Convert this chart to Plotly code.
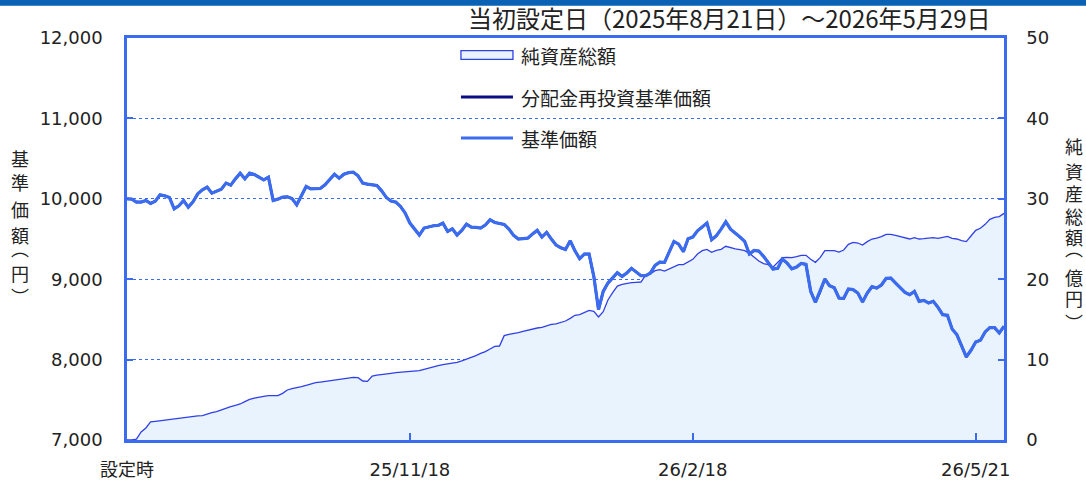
import plotly.graph_objects as go

# 基準価額 (円), business-day series from 2025/8/21 to 2026/5/29
price = [
    10000, 9996, 9959, 9959, 9979, 9942, 9971, 10050, 10037, 10017,
    9876, 9913, 9979, 9896, 9963, 10062, 10112, 10145, 10070, 10091,
    10120, 10195, 10170, 10248, 10319, 10248, 10319, 10302, 10273, 10236,
    10269, 9979, 9996, 10021, 10025, 10004, 9925, 10050, 10153, 10124,
    10124, 10128, 10174, 10236, 10306, 10257, 10306, 10325, 10331, 10286,
    10195, 10182, 10178, 10166, 10099, 10017, 9971, 9959, 9905, 9822,
    9698, 9627, 9549, 9636, 9652, 9665, 9669, 9698, 9594, 9627,
    9549, 9607, 9685, 9648, 9644, 9636, 9673, 9739, 9706, 9698,
    9681, 9623, 9545, 9499, 9507, 9511, 9561, 9607, 9524, 9582,
    9499, 9424, 9391, 9370, 9478, 9354, 9255, 9313, 9313, 9035,
    8621, 8849, 8952, 9023, 9081, 9035, 9077, 9135, 9089, 9043,
    9043, 9077, 9172, 9213, 9209, 9333, 9470, 9437, 9342, 9503,
    9524, 9602, 9648, 9698, 9491, 9540, 9623, 9714, 9623, 9578,
    9524, 9470, 9313, 9358, 9350, 9284, 9209, 9126, 9135, 9251,
    9200, 9130, 9151, 9197, 9184, 8849, 8712, 8845, 9002, 8919,
    8894, 8766, 8762, 8878, 8870, 8828, 8716, 8828, 8907, 8890,
    8928, 9010, 9014, 8952, 8894, 8836, 8807, 8849, 8725, 8737,
    8704, 8725, 8650, 8559, 8551, 8381, 8311, 8166, 8033, 8116,
    8219, 8240, 8344, 8398, 8398, 8331, 8414,
]

# 分配金再投資基準価額 (円): no distributions, so it reads identical to 基準価額
reinvest = [
    10000, 9996, 9959, 9959, 9979, 9942, 9971, 10050, 10037, 10017,
    9876, 9913, 9979, 9896, 9963, 10062, 10112, 10145, 10070, 10091,
    10120, 10195, 10170, 10248, 10319, 10248, 10319, 10302, 10273, 10236,
    10269, 9979, 9996, 10021, 10025, 10004, 9925, 10050, 10153, 10124,
    10124, 10128, 10174, 10236, 10306, 10257, 10306, 10325, 10331, 10286,
    10195, 10182, 10178, 10166, 10099, 10017, 9971, 9959, 9905, 9822,
    9698, 9627, 9549, 9636, 9652, 9665, 9669, 9698, 9594, 9627,
    9549, 9607, 9685, 9648, 9644, 9636, 9673, 9739, 9706, 9698,
    9681, 9623, 9545, 9499, 9507, 9511, 9561, 9607, 9524, 9582,
    9499, 9424, 9391, 9370, 9478, 9354, 9255, 9313, 9313, 9035,
    8621, 8849, 8952, 9023, 9081, 9035, 9077, 9135, 9089, 9043,
    9043, 9077, 9172, 9213, 9209, 9333, 9470, 9437, 9342, 9503,
    9524, 9602, 9648, 9698, 9491, 9540, 9623, 9714, 9623, 9578,
    9524, 9470, 9313, 9358, 9350, 9284, 9209, 9126, 9135, 9251,
    9200, 9130, 9151, 9197, 9184, 8849, 8712, 8845, 9002, 8919,
    8894, 8766, 8762, 8878, 8870, 8828, 8716, 8828, 8907, 8890,
    8928, 9010, 9014, 8952, 8894, 8836, 8807, 8849, 8725, 8737,
    8704, 8725, 8650, 8559, 8551, 8381, 8311, 8166, 8033, 8116,
    8219, 8240, 8344, 8398, 8398, 8331, 8414,
]

# 純資産総額 (億円)
nav = [
    0.0, 0.0, 0.1, 1.0, 1.5, 2.25, 2.32, 2.4, 2.5, 2.57,
    2.65, 2.74, 2.82, 2.9, 2.94, 2.99, 3.03, 3.23, 3.4, 3.52,
    3.73, 4.02, 4.15, 4.31, 4.48, 4.77, 5.06, 5.22, 5.35, 5.43,
    5.51, 5.51, 5.51, 5.8, 6.22, 6.38, 6.47, 6.63, 6.8, 6.97,
    7.13, 7.21, 7.3, 7.42, 7.5, 7.59, 7.63, 7.75, 7.8, 7.75,
    7.34, 7.3, 7.96, 8.08, 8.13, 8.17, 8.29, 8.37, 8.42, 8.5,
    8.58, 8.62, 8.62, 8.79, 8.96, 9.12, 9.25, 9.37, 9.45, 9.54,
    9.66, 9.83, 10.03, 10.2, 10.49, 10.78, 10.99, 11.32, 11.65, 11.69,
    12.98, 13.14, 13.23, 13.35, 13.52, 13.68, 13.85, 13.93, 14.01, 14.18,
    14.39, 14.43, 14.59, 14.8, 15.13, 15.51, 15.59, 15.88, 16.13, 16.0,
    15.3, 15.96, 17.41, 18.33, 19.15, 19.36, 19.49, 19.57, 19.61, 19.65,
    20.52, 20.65, 21.06, 21.19, 21.02, 21.31, 21.6, 21.81, 21.81, 22.1,
    22.47, 23.13, 23.55, 23.71, 23.34, 23.59, 23.71, 24.09, 23.88, 23.76,
    23.67, 23.55, 23.22, 22.72, 22.26, 21.93, 21.81, 21.48, 22.06, 22.68,
    22.7, 22.68, 22.8, 22.97, 22.97, 22.47, 22.1, 22.68, 23.55, 23.51,
    23.55, 23.38, 23.63, 24.34, 24.59, 24.5, 24.25, 24.67, 25.0, 25.12,
    25.29, 25.58, 25.58, 25.46, 25.33, 25.17, 25.0, 25.17, 25.0, 25.04,
    25.08, 25.17, 25.08, 25.17, 25.33, 25.08, 25.0, 24.79, 24.67, 25.37,
    26.08, 26.33, 26.82, 27.45, 27.69, 27.78, 28.19,
]

tick_idx = [0, 60, 120, 180]
tick_labels = ["設定時", "25/11/18", "26/2/18", "26/5/21"]
series_names = ["純資産総額", "分配金再投資基準価額", "基準価額"]
left_title = ["基", "準", "価", "額", "︵", "円", "︶"]
right_title = ["純", "資", "産", "総", "額", "︵", "億", "円", "︶"]
days = list(range(len(price)))

BLUE = "#3b6cf0"
NAVLINE = "#3040e8"
NAVFILL = "#e8f3fd"
NAVY = "#0b0b82"
TXT = "#222222"
JP = "Noto Sans CJK JP"
NUMF = "DejaVu Sans, Noto Sans CJK JP"

# plot-area pixel geometry (for placing vertical axis-title glyphs)
PT, PB = 38, 440
def ypx(py):
    return (PB - py) / (PB - PT)

fig = go.Figure()
fig.add_trace(go.Scatter(
    x=days, y=nav, yaxis="y", name=series_names[0], mode="lines",
    line=dict(color=NAVLINE, width=1.3), fill="tozeroy", fillcolor=NAVFILL))
fig.add_trace(go.Scatter(
    x=days, y=reinvest, yaxis="y2", name=series_names[1], mode="lines",
    line=dict(color=NAVY, width=2.5)))
fig.add_trace(go.Scatter(
    x=days, y=price, yaxis="y2", name=series_names[2], mode="lines",
    line=dict(color=BLUE, width=3.2)))

axis_common = dict(
    showline=True, linecolor=BLUE, linewidth=2.5,
    ticks="inside", tickcolor=BLUE, tickwidth=2, zeroline=False,
)

# manual legend (paper coordinates of the plot area)
LX0, LX1, LTX = 0.3808, 0.4401, 0.4470
leg_y = [0.9577, 0.8532, 0.7512]
shapes = [
    dict(type="rect", xref="paper", yref="paper", x0=-0.2, x1=1.2, y0=1.080, y1=1.2,
         fillcolor="#0a62b4", line=dict(width=0), layer="above"),
    dict(type="rect", xref="paper", yref="paper", x0=LX0, x1=LX1,
         y0=leg_y[0] - 0.011, y1=leg_y[0] + 0.011,
         fillcolor=NAVFILL, line=dict(color=NAVLINE, width=1.3), layer="above"),
    dict(type="line", xref="paper", yref="paper", x0=LX0, x1=LX1,
         y0=leg_y[1], y1=leg_y[1], line=dict(color=NAVY, width=3), layer="above"),
    dict(type="line", xref="paper", yref="paper", x0=LX0, x1=LX1,
         y0=leg_y[2], y1=leg_y[2], line=dict(color=BLUE, width=3), layer="above"),
]
annotations = [
    dict(text="当初設定日（2025年8月21日）～2026年5月29日",
         xref="paper", yref="paper", x=0.6864, y=1.0498,
         xanchor="center", yanchor="middle", showarrow=False,
         font=dict(size=24, family=JP, color=TXT)),
]
# vertical presentation-form brackets sit at the bottom/top of their em box,
# so their anchor points are offset to put the visible glyph at the target
left_pos = [158, 182, 209, 235, 248, 273, 296]
right_pos = [146, 171, 193, 216, 237, 248, 277, 298, 322]
for ch, py in zip(left_title, left_pos):
    annotations.append(dict(
        text=ch, xref="paper", yref="paper", x=-0.122, y=ypx(py),
        xanchor="center", yanchor="middle", showarrow=False,
        font=dict(size=18, family=JP, color=TXT)))
for ch, py in zip(right_title, right_pos):
    annotations.append(dict(
        text=ch, xref="paper", yref="paper", x=1.0798, y=ypx(py),
        xanchor="center", yanchor="middle", showarrow=False,
        font=dict(size=18, family=JP, color=TXT)))
for name, yy in zip(series_names, leg_y):
    annotations.append(dict(
        text=name, xref="paper", yref="paper", x=LTX, y=yy,
        xanchor="left", yanchor="middle", showarrow=False,
        font=dict(size=19, family=JP, color=TXT)))

fig.update_layout(
    width=1086, height=483,
    margin=dict(l=127, r=82, t=38, b=43, autoexpand=False),
    paper_bgcolor="white", plot_bgcolor="white",
    showlegend=False,
    xaxis=dict(
        range=[0, len(price) - 1], tickvals=tick_idx, ticktext=tick_labels,
        ticklen=7, mirror=True, showgrid=False,
        tickfont=dict(size=18, family=NUMF, color=TXT), ticklabelstandoff=12,
        **axis_common),
    yaxis=dict(
        range=[0, 50], dtick=10, side="right", ticklen=6,
        showgrid=True, gridcolor=BLUE, griddash="dot", gridwidth=1,
        tickfont=dict(size=18, family=NUMF, color=TXT), ticklabelstandoff=16,
        **axis_common),
    yaxis2=dict(
        range=[7000, 12000], dtick=1000, tickformat=",", overlaying="y",
        side="left", ticklen=6, showgrid=False,
        tickfont=dict(size=18, family=NUMF, color=TXT), ticklabelstandoff=18,
        **axis_common),
    shapes=shapes,
    annotations=annotations,
)

fig.write_html("out.html",
               config={"displayModeBar": False},
               post_script="document.body.style.margin='0';document.body.style.overflow='hidden';")
